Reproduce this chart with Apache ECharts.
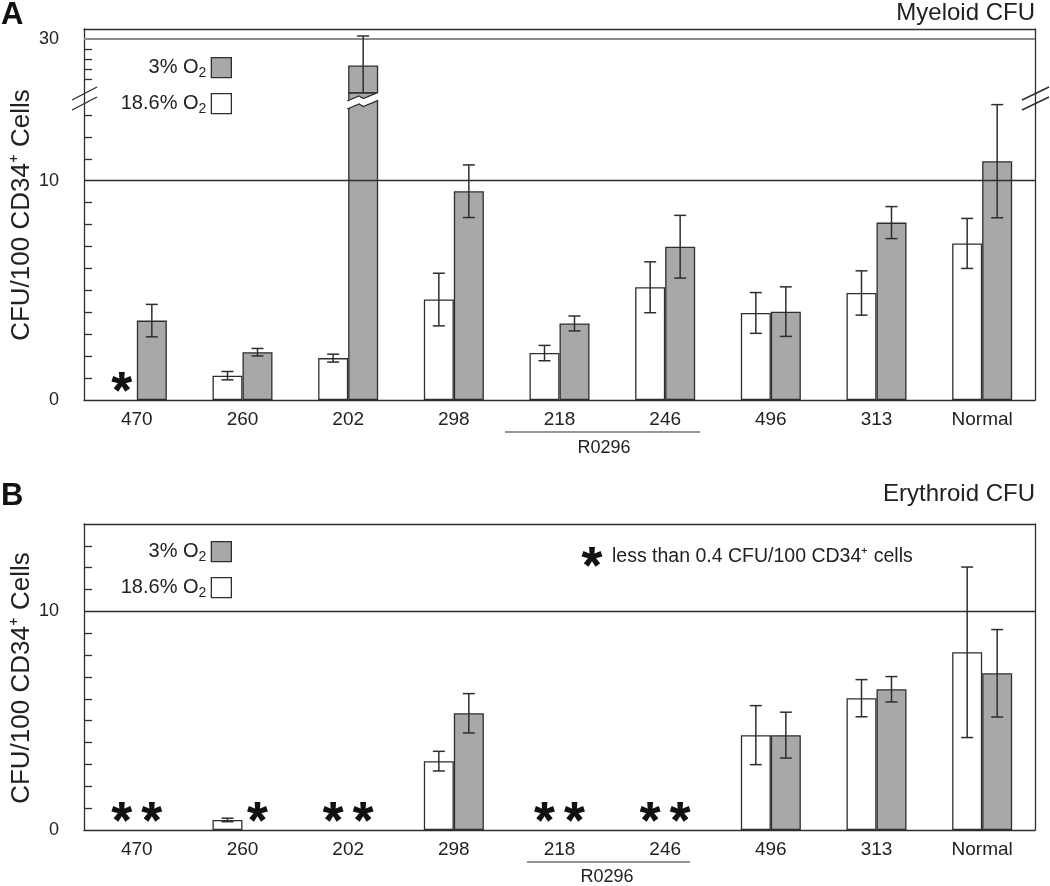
<!DOCTYPE html>
<html><head><meta charset="utf-8">
<script src="https://cdn.jsdelivr.net/npm/echarts@6/dist/echarts.min.js"></script>
<style>html,body{margin:0;padding:0;background:#fff}#c{width:1050px;height:886px}</style>
</head><body><div id="c"></div>
<script>
// ---------- data ----------
const categories = ['470', '260', '202', '298', '218', '246', '496', '313', 'Normal'];
const seriesNames = ['18.6% O₂', '3% O₂'];

// Panel A – Myeloid CFU (CFU/100 CD34+ cells, mean and error)
const myeloid186 = [null, 1.11, 1.91, 4.58, 2.14, 5.14, 3.97, 4.88, 7.14];
const myeloid186Err = [null, 0.19, 0.18, 1.20, 0.35, 1.16, 0.93, 1.01, 1.14];
const myeloid3 = [3.62, 2.18, 24.7, 9.52, 3.49, 6.99, 4.03, 8.09, 10.89];
const myeloid3Err = [0.74, 0.17, 5.9, 1.20, 0.34, 1.43, 1.13, 0.73, 2.58];
const myeloidBelow186 = ['470'];
const myeloidBelow3 = [];

// Panel B – Erythroid CFU
const erythroid186 = [null, 0.46, null, 3.15, null, null, 4.34, 6.03, 8.13];
const erythroid186Err = [null, 0.08, null, 0.45, null, null, 1.35, 0.85, 3.9];
const erythroid3 = [null, null, null, 5.34, null, null, 4.34, 6.44, 7.17];
const erythroid3Err = [null, null, null, 0.90, null, null, 1.05, 0.58, 2.0];
const erythroidBelow186 = ['470', '202', '218', '246'];
const erythroidBelow3 = ['470', '260', '202', '218', '246'];

const lowerTicks = [1, 2, 3, 4, 5, 6, 7, 8, 9, 11, 12, 13];
const lowerLabels = [0, 10];
const upperTicks = [22, 24, 26, 28];
const upperLabels = [30];

// ---------- styling ----------
const FONT = '"Liberation Sans", Arial, Helvetica, sans-serif';
const INK = '#2e2e2e';
const GRAY = '#a7a8aa';
const BAR_W = 30;

// five-armed asterisk glyph as polygons around (cx, cy)
function astShapes(cx, cy, L, t) {
  const out = [{ type: 'circle', shape: { cx: cx, cy: cy + 0.095 * L, r: t * 0.95 }, style: { fill: '#111' } }];
  for (let k = 0; k < 5; k++) {
    const a = k * 2 * Math.PI / 5, ca = Math.cos(a), sa = Math.sin(a);
    const pts = [[-t * 0.75, 1], [t * 0.75, 1], [t, -L], [-t, -L]].map(p =>
      [cx + p[0] * ca - p[1] * sa, cy + 0.095 * L + p[0] * sa + p[1] * ca]);
    out.push({ type: 'polygon', shape: { points: pts }, style: { fill: '#111' } });
  }
  return out;
}

function errData(mean, err) {
  const out = [];
  mean.forEach((m, i) => { if (m != null && err[i] != null) out.push([i, m - err[i], m + err[i]]); });
  return out;
}
function astData(list, side) {
  return list.map(c => [categories.indexOf(c), side]);
}
function errRender(side) {
  return function (params, api) {
    const lo = api.coord([api.value(0), api.value(1)]);
    const hi = api.coord([api.value(0), api.value(2)]);
    const x = lo[0] + side * BAR_W / 2;
    const cap = 6;
    const st = { stroke: INK, lineWidth: 1.5 };
    return { type: 'group', children: [
      { type: 'line', shape: { x1: x, y1: lo[1], x2: x, y2: hi[1] }, style: st },
      { type: 'line', shape: { x1: x - cap, y1: lo[1], x2: x + cap, y2: lo[1] }, style: st },
      { type: 'line', shape: { x1: x - cap, y1: hi[1], x2: x + cap, y2: hi[1] }, style: st }
    ] };
  };
}
function astRender(params, api) {
  const p = api.coord([api.value(0), 0]);
  const x = p[0] + api.value(1) * BAR_W / 2;
  return { type: 'group', children: astShapes(x, p[1] - 19, 10, 2.9) };
}

function panelSeries(xi, yi, white, whiteErr, gray, grayErr, below186, below3, refLine) {
  const whiteSeries = { name: seriesNames[0], type: 'bar', xAxisIndex: xi, yAxisIndex: yi, data: white,
      barWidth: BAR_W, barGap: '0%', clip: true,
      itemStyle: { color: '#ffffff', borderColor: INK, borderWidth: 1.3 } };
  if (refLine) whiteSeries.markLine = { silent: true, symbol: 'none', label: { show: false },
        lineStyle: { color: refLine.color, width: refLine.width, type: 'solid' },
        data: [{ yAxis: refLine.value }] };
  const s = [
    whiteSeries,
    { name: seriesNames[1], type: 'bar', xAxisIndex: xi, yAxisIndex: yi, data: gray,
      barWidth: BAR_W, barGap: '0%', clip: true,
      itemStyle: { color: GRAY, borderColor: INK, borderWidth: 1.3 } },
    { type: 'custom', xAxisIndex: xi, yAxisIndex: yi, clip: true, z: 5, silent: true,
      renderItem: errRender(-1), data: errData(white, whiteErr) },
    { type: 'custom', xAxisIndex: xi, yAxisIndex: yi, clip: true, z: 5, silent: true,
      renderItem: errRender(1), data: errData(gray, grayErr) }
  ];
  const ast = astData(below186, -1).concat(astData(below3, 1));
  if (ast.length) s.push({ type: 'custom', xAxisIndex: xi, yAxisIndex: yi, clip: true, z: 5, silent: true,
    renderItem: astRender, data: ast });
  return s;
}

const axisLine = { show: true, onZero: false, lineStyle: { color: INK, width: 1.3 } };
const labelStyle = { color: '#222', fontSize: 18, fontFamily: FONT };

function catAxis(grid, pos, labels) {
  return { type: 'category', gridIndex: grid, position: pos, data: categories,
    axisLine: axisLine, axisTick: { show: false },
    axisLabel: labels ? { margin: 10, interval: 0, color: '#222', fontSize: 19, fontFamily: FONT } : { show: false } };
}
function valAxis(grid, pos, min, max, ticks, labels) {
  const a = { type: 'value', gridIndex: grid, position: pos, min: min, max: max,
    axisLine: axisLine, splitLine: { show: false } };
  if (ticks) {
    a.axisTick = { show: true, inside: true, length: 8, lineStyle: { color: INK, width: 1.3 }, customValues: ticks };
    a.axisLabel = Object.assign({ margin: 25, customValues: labels }, labelStyle);
  } else {
    a.axisTick = { show: false }; a.axisLabel = { show: false };
  }
  return a;
}
function legendItem(name, top) {
  return { data: [name], orient: 'vertical', align: 'right', right: 818, top: top, padding: 0,
    icon: 'rect', itemWidth: 20, itemHeight: 20, selectedMode: false,
    itemStyle: { borderColor: INK, borderWidth: 1.3 },
    formatter: n => '{m|' + n.replace('₂', '') + '}{s|2}',
    textStyle: { color: '#222', fontFamily: FONT,
      rich: { m: { fontSize: 20, lineHeight: 24, fontFamily: FONT, color: '#222' },
              s: { fontSize: 14, lineHeight: 12, verticalAlign: 'bottom', fontFamily: FONT, color: '#222' } } } };
}

const chart = echarts.init(document.getElementById('c'), null, { renderer: 'canvas' });
const staticGraphic = [
  { type: 'text', x: 1, y: 0, style: { text: 'A', font: 'bold 31px ' + FONT, fill: '#111' } },
  { type: 'text', x: 1, y: 481, style: { text: 'B', font: 'bold 31px ' + FONT, fill: '#111' } },
  { type: 'text', x: 22, y: 215, rotation: Math.PI / 2,
    style: { text: 'CFU/100 CD34⁺ Cells', font: '26px ' + FONT, fill: '#222', align: 'center', verticalAlign: 'middle' } },
  { type: 'text', x: 22, y: 678, rotation: Math.PI / 2,
    style: { text: 'CFU/100 CD34⁺ Cells', font: '26px ' + FONT, fill: '#222', align: 'center', verticalAlign: 'middle' } },
  // R0296 grouping
  { type: 'line', shape: { x1: 505, y1: 432, x2: 700, y2: 432 }, style: { stroke: INK, lineWidth: 1.2 } },
  { type: 'text', x: 604, y: 448, style: { text: 'R0296', font: '18px ' + FONT, fill: '#222', align: 'center', verticalAlign: 'middle' } },
  { type: 'line', shape: { x1: 527, y1: 862, x2: 690, y2: 862 }, style: { stroke: INK, lineWidth: 1.2 } },
  { type: 'text', x: 607, y: 877, style: { text: 'R0296', font: '18px ' + FONT, fill: '#222', align: 'center', verticalAlign: 'middle' } },
  // note in panel B
  { type: 'text', x: 612, y: 557, style: { text: 'less than 0.4 CFU/100 CD34⁺ cells', font: '19.5px ' + FONT, fill: '#222', verticalAlign: 'middle' } },
  // axis break marks (panel A)
  { type: 'line', z: 10, shape: { x1: 72, y1: 100, x2: 97, y2: 87 }, style: { stroke: INK, lineWidth: 1.4 } },
  { type: 'line', z: 10, shape: { x1: 72, y1: 110, x2: 97, y2: 97 }, style: { stroke: INK, lineWidth: 1.4 } },
  { type: 'line', z: 10, shape: { x1: 1022, y1: 100, x2: 1049, y2: 87 }, style: { stroke: INK, lineWidth: 1.4 } },
  { type: 'line', z: 10, shape: { x1: 1022, y1: 110, x2: 1049, y2: 97 }, style: { stroke: INK, lineWidth: 1.4 } }
].concat(astShapes(592, 556, 10, 2.9).map(e => Object.assign({ z: 10 }, e)));

const titleStyle = { fontSize: 24, fontWeight: 'normal', color: '#222', fontFamily: FONT };
const option = {
  animation: false,
  backgroundColor: '#ffffff',
  textStyle: { fontFamily: FONT },
  title: [
    { text: 'Myeloid CFU', right: 15, top: 1, padding: 0, textStyle: titleStyle },
    { text: 'Erythroid CFU', right: 15, top: 482, padding: 0, textStyle: titleStyle }
  ],
  legend: [
    legendItem(seriesNames[1], 57), legendItem(seriesNames[0], 93),
    legendItem(seriesNames[1], 541), legendItem(seriesNames[0], 577)
  ],
  grid: [
    { left: 84, right: 15, top: 29, height: 64 },
    { left: 84, right: 15, top: 93, height: 307 },
    { left: 84, right: 15, top: 524, height: 306 }
  ],
  xAxis: [
    catAxis(0, 'top', false),
    catAxis(1, 'bottom', true),
    catAxis(2, 'bottom', true),
    catAxis(2, 'top', false)
  ],
  yAxis: [
    valAxis(0, 'left', 19.2, 32, upperTicks, upperLabels),
    valAxis(0, 'right', 19.2, 32, null),
    valAxis(1, 'left', 0, 14, lowerTicks, lowerLabels),
    valAxis(1, 'right', 0, 14, null),
    valAxis(2, 'left', 0, 14, lowerTicks, lowerLabels),
    valAxis(2, 'right', 0, 14, null)
  ],
  series: [].concat(
    panelSeries(0, 0, myeloid186, myeloid186Err, myeloid3, myeloid3Err, [], [], { value: 30, color: '#8c8c8c', width: 2 }),
    panelSeries(1, 2, myeloid186, myeloid186Err, myeloid3, myeloid3Err, myeloidBelow186, myeloidBelow3, { value: 10, color: INK, width: 1.3 }),
    panelSeries(2, 4, erythroid186, erythroid186Err, erythroid3, erythroid3Err, erythroidBelow186, erythroidBelow3, { value: 10, color: INK, width: 1.3 })
  ),
  graphic: staticGraphic
};
chart.setOption(option);

// zig-zag break drawn across the broken bar (category 202, 3% O2)
const idx = categories.indexOf('202');
const c = chart.convertToPixel({ xAxisIndex: 1, yAxisIndex: 2 }, [idx, 0]);
const x0 = c[0], x1 = c[0] + BAR_W;
const yb = chart.convertToPixel({ xAxisIndex: 0, yAxisIndex: 0 }, [idx, 19.2])[1];
const up = [[x0 - 1, yb + 8], [x0 + 11, yb + 3], [x0 + 15, yb + 5.5], [x1 + 1, yb - 1]];
const lo = up.map(p => [p[0], p[1] + 8]);
chart.setOption({ graphic: staticGraphic.concat([
  { type: 'polygon', z: 20, shape: { points: up.concat(lo.slice().reverse()) }, style: { fill: '#ffffff' } },
  { type: 'polyline', z: 21, shape: { points: up.slice(0, 3).concat([[x1, yb - 0.6]]) }, style: { stroke: INK, lineWidth: 1.3, fill: null } },
  { type: 'polyline', z: 21, shape: { points: lo.slice(0, 3).concat([[x1, yb + 7.4]]) }, style: { stroke: INK, lineWidth: 1.3, fill: null } }
]) });
</script></body></html>
